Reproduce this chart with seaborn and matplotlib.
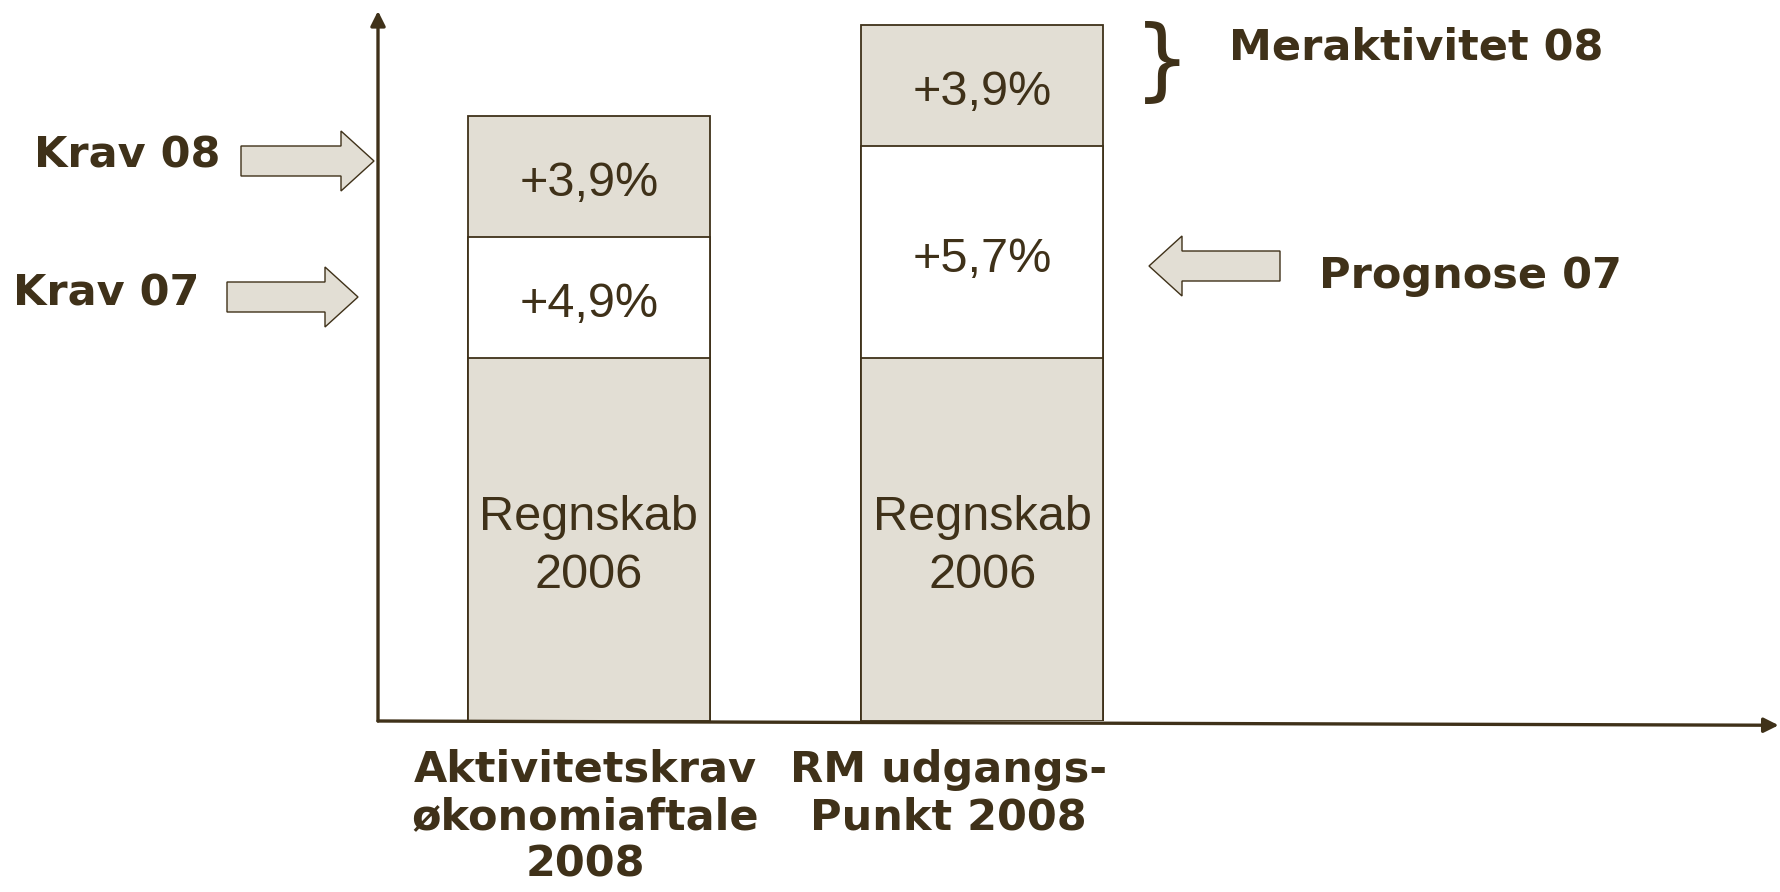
import pandas as pd
import seaborn as sns
import matplotlib.pyplot as plt
import matplotlib.patches as mpatches
from matplotlib.transforms import IdentityTransform, ScaledTranslation

# Categories (x axis) and segment heights (schematic units)
categories = ["Aktivitetskrav\nøkonomiaftale\n2008", "RM udgangs-\nPunkt 2008"]
base_vals = [100, 100]        # Regnskab 2006
mid_vals = [33.3, 58.4]       # +4,9% / +5,7%
top_vals = [33.3, 33.3]       # +3,9% / +3,9%

base_labels = ["Regnskab\n2006", "Regnskab\n2006"]
mid_labels = ["+4,9%", "+5,7%"]
top_labels = ["+3,9%", "+3,9%"]

DARK = "#3f3119"
BEIGE = "#e2ded4"

df = pd.DataFrame({
    "cat": categories,
    "base": base_vals,
    "mid": mid_vals,
    "top": top_vals,
})
df["lvl2"] = df["base"] + df["mid"]
df["lvl3"] = df["lvl2"] + df["top"]

sns.set_style("white")
W, H = 1780, 892
fig = plt.figure(figsize=(W / 100, H / 100), dpi=100)
ax = fig.add_axes([378 / W, (H - 721) / H, (W - 378) / W, (721 - 11) / H])

bar_kw = dict(edgecolor=DARK, linewidth=1.3, width=0.615, ax=ax)
sns.barplot(data=df, x="cat", y="lvl3", color=BEIGE, saturation=1, **bar_kw)
sns.barplot(data=df, x="cat", y="lvl2", color="white", saturation=1, **bar_kw)
sns.barplot(data=df, x="cat", y="base", color=BEIGE, saturation=1, **bar_kw)

ax.set_xlim(-0.536, 3.027)
ax.set_ylim(0, 195.6)
ax.set_xlabel("")
ax.set_ylabel("")
ax.set_yticks([])
for s in ax.spines.values():
    s.set_visible(False)

# segment labels (nudged down a few pixels so the digits sit centred)
down = ax.transData + ScaledTranslation(0, -7 / 100, fig.dpi_scale_trans)
txt_kw = dict(ha="center", va="center", fontsize=35, color=DARK,
              family="Liberation Sans", transform=down)
for i, row in df.iterrows():
    ax.text(i, row["base"] / 2, base_labels[i], linespacing=1.38, **txt_kw)
    ax.text(i, row["base"] + row["mid"] / 2, mid_labels[i], **txt_kw)
    ax.text(i, row["lvl2"] + row["top"] / 2, top_labels[i], **txt_kw)

# category tick labels
ax.tick_params(axis="x", length=0, pad=20)
ax.set_xticks(range(len(categories)))
ax.set_xticklabels(categories, fontsize=31, fontweight="bold", color=DARK,
                   family="DejaVu Sans", va="top", linespacing=1.17)
for lab, dx in zip(ax.get_xticklabels(), [-4, -34]):
    lab.set_transform(lab.get_transform() + ScaledTranslation(dx / 100, 0, fig.dpi_scale_trans))

# axis arrows
arr = dict(arrowstyle="-|>", lw=2.4, color=DARK, mutation_scale=22, shrinkA=0, shrinkB=0)
ax.annotate("", xy=(0, 1.0), xytext=(0, 0), xycoords="axes fraction",
            textcoords="axes fraction", arrowprops=arr, annotation_clip=False)
ax.annotate("", xy=(0.999, -0.006), xytext=(0, 0), xycoords="axes fraction",
            textcoords="axes fraction", arrowprops=arr, annotation_clip=False)

# block arrows (pixel coords, y from top)
def block_arrow(x0, x1, yc):
    a = mpatches.FancyArrow(x0, H - yc, x1 - x0, 0, width=30, head_width=60,
                            head_length=33, length_includes_head=True,
                            facecolor=BEIGE, edgecolor=DARK, linewidth=1.0,
                            transform=IdentityTransform())
    fig.patches.append(a)

block_arrow(241, 374, 161)
block_arrow(227, 358, 297)
block_arrow(1280, 1149, 266)

lab_kw = dict(fontsize=31, fontweight="bold", color=DARK, family="DejaVu Sans",
              va="center", ha="left")
fig.text(34 / W, 1 - 155 / H, "Krav 08", **lab_kw)
fig.text(13 / W, 1 - 294 / H, "Krav 07", **lab_kw)
fig.text(1229 / W, 1 - 48 / H, "Meraktivitet 08", **lab_kw)
fig.text(1319 / W, 1 - 276 / H, "Prognose 07", **lab_kw)

# brace next to top segment of second bar
fig.text(1162 / W, 1 - 64 / H, "}", fontsize=64, color=DARK,
         family="DejaVu Sans", ha="center", va="center")

fig.savefig("out.png", dpi=100)
